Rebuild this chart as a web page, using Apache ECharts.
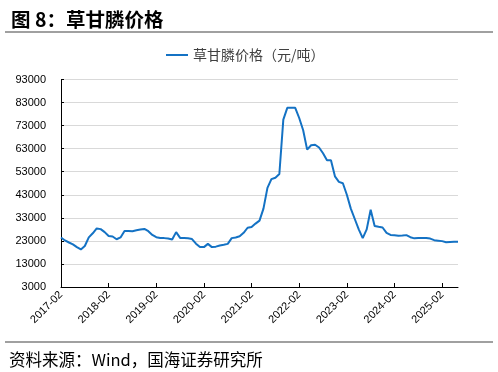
<!DOCTYPE html>
<html><head><meta charset="utf-8">
<script src="https://cdn.jsdelivr.net/npm/echarts@6/dist/echarts.min.js"></script>
<style>html,body{margin:0;padding:0;background:#fff}#c{width:498px;height:372px}</style>
</head><body><div id="c"></div>
<script>
const startYear = 2017, startMonth = 2, monthCount = 101;
const categories = [];
for (let i = 0; i < monthCount; i++) {
  const t = (startMonth - 1) + i;
  const y = startYear + Math.floor(t / 12), m = t % 12 + 1;
  categories.push(y + '-' + (m < 10 ? '0' + m : m));
}
const seriesName = '草甘膦价格（元/吨）';
const priceValues = [
  24500,23200,22300,21500,20300,19300,20800,24500,26300,28400,28100,26800,
  25100,24900,23700,24500,27300,27300,27200,27600,27900,28200,27200,25600,
  24600,24300,24200,24000,23600,26800,24300,24200,24100,23800,21800,20300,
  20300,21700,20300,20500,21000,21300,21700,24200,24500,25000,26500,28700,
  29000,30500,31800,37000,46000,49800,50400,52000,75600,80700,80700,80700,
  76300,71000,62600,64500,64700,63500,61000,58000,58000,51000,48600,48000,
  43000,37000,32500,28000,24200,28000,36500,29500,29100,28800,26500,25600,
  25400,25200,25300,25500,24600,24100,24200,24300,24300,24000,23300,23100,
  22900,22400,22500,22600,22600
];
const yMin = 3000, yMax = 93000, yInterval = 10000;
const titleText = '图 8：草甘膦价格';
const sourceText = '资料来源：Wind，国海证券研究所';

const chart = echarts.init(document.getElementById('c'));
chart.setOption({
  animation: false,
  title: [
    { text: titleText, left: 6, top: 5, textStyle: { fontFamily: 'Noto Sans CJK SC', fontSize: 19.5, fontWeight: 'bold', color: '#000' } },
    { text: sourceText, left: 4, top: 346, textStyle: { fontFamily: 'Noto Sans CJK SC', fontSize: 16.5, fontWeight: 'normal', color: '#000' } }
  ],
  graphic: [
    { type: 'line', shape: { x1: 5, y1: 32, x2: 493, y2: 32 }, style: { stroke: '#808080', lineWidth: 1.5 } },
    { type: 'line', shape: { x1: 5, y1: 342, x2: 493, y2: 342 }, style: { stroke: '#808080', lineWidth: 1.5 } }
  ],
  legend: {
    top: 43, left: 161, itemWidth: 22, itemHeight: 2, itemGap: 9,
    icon: 'rect',
    textStyle: { fontFamily: 'Noto Sans CJK SC', fontSize: 14, color: '#404040' },
    data: [seriesName]
  },
  grid: { left: 61, right: 40, top: 79.5, bottom: 85, containLabel: false },
  xAxis: {
    type: 'category', data: categories, boundaryGap: false,
    axisLine: { lineStyle: { color: '#000', width: 1 } },
    axisTick: { inside: true, length: 4, interval: 11, lineStyle: { color: '#000' } },
    axisLabel: { interval: 11, rotate: 45, fontFamily: 'Liberation Sans', fontSize: 11, color: '#000', margin: 6 },
    splitLine: { show: false }
  },
  yAxis: {
    type: 'value', min: yMin, max: yMax, interval: yInterval,
    axisLine: { show: true, lineStyle: { color: '#000', width: 1 } },
    axisTick: { show: true, inside: true, length: 3, lineStyle: { color: '#000' } },
    axisLabel: { fontFamily: 'Liberation Sans', fontSize: 11, color: '#000', margin: 15, formatter: v => String(v) },
    splitLine: { lineStyle: { color: '#d9d9d9', width: 1.2 } }
  },
  series: [{
    name: seriesName, type: 'line', data: priceValues, symbol: 'none',
    lineStyle: { color: '#1472c4', width: 2 }, itemStyle: { color: '#1472c4' }
  }]
});
</script></body></html>
